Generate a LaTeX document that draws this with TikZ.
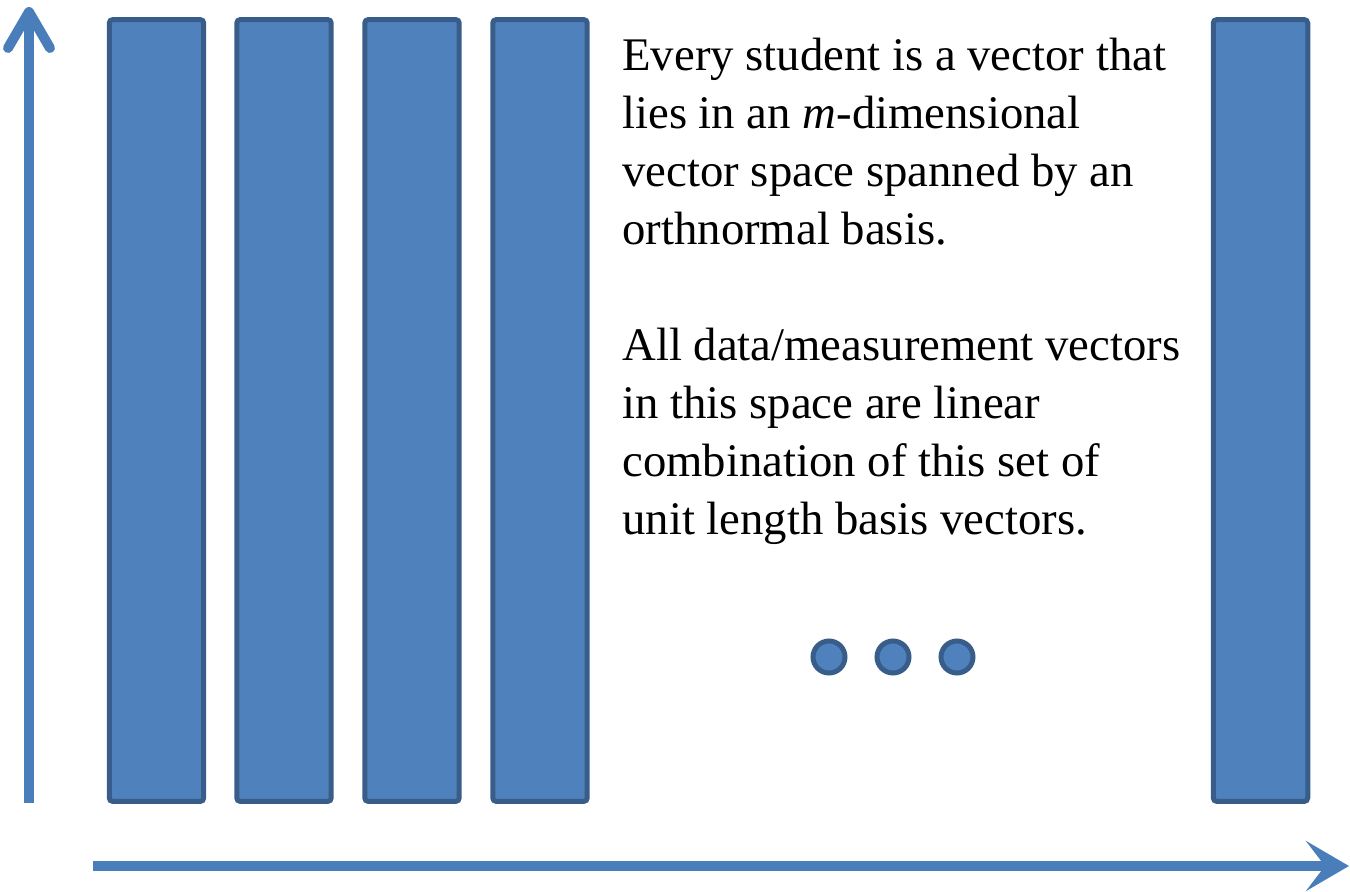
\documentclass[tikz,border=0pt]{standalone}
\usepackage{fontspec}
\setmainfont{Liberation Serif}
\usetikzlibrary{arrows.meta, positioning}
\definecolor{barblue}{RGB}{79,129,189}
\definecolor{bardark}{RGB}{56,93,138}
\definecolor{axisblue}{RGB}{74,126,187}
\tikzset{
  bar/.style={rectangle, draw=bardark, fill=barblue, line width=0.1cm,
    minimum width=1.89cm, minimum height=15.64cm, rounded corners=2pt, inner sep=0pt},
  dot/.style={circle, draw=bardark, fill=barblue, line width=0.1cm,
    minimum size=0.64cm, inner sep=0pt},
  axis/.style={draw=axisblue, line width=0.2cm},
  blurb/.style={anchor=north west, align=left, inner sep=0pt,
    font=\fontsize{26.6}{33}\selectfont}
}
\begin{document}
\begin{tikzpicture}[x=0.02cm, y=-0.02cm]
  \useasboundingbox (0,0) rectangle (1350,892);

  % Axes
  \coordinate (ybot) at (29,803);
  \coordinate (ytop) at (29,7);
  \coordinate (xleft) at (93,866);
  \coordinate (xright) at (1349,866);
  \draw[axis, -{Straight Barb[round, length=0.72cm, width=0.84cm]}] (ybot) -- (ytop);
  \draw[axis, -{Stealth[length=0.86cm, width=1cm, inset=0.38cm]}] (xleft) -- (xright);

  % Basis vectors
  \node[bar] (bar1) at (156.5,410.5) {};
  \node[bar] (bar2) at (284,410.5) {};
  \node[bar] (bar3) at (412,410.5) {};
  \node[bar] (bar4) at (540,410.5) {};
  \node[bar] (barm) at (1260.5,410.5) {};

  % Ellipsis
  \node[dot] (dot1) at (829,657) {};
  \node[dot] (dot2) at (893,657) {};
  \node[dot] (dot3) at (957,657) {};

  % Text
  \node[blurb] (para1) at (622,38) {Every student is a vector that\\lies in an \textit{m}-dimensional\\vector space spanned by an\\orthnormal basis.};
  \node[blurb] (para2) at (622,328) {All data/measurement vectors\\in this space are linear\\combination of this set of\\unit length basis vectors.};
\end{tikzpicture}
\end{document}
